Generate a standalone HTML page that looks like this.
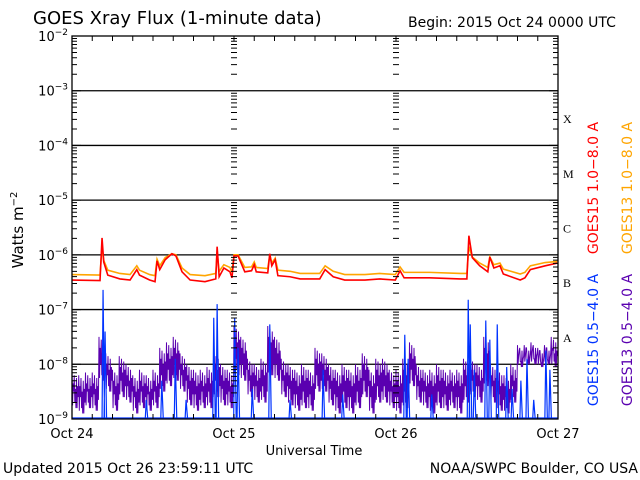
<!DOCTYPE html>
<html><head><meta charset="utf-8"><style>
body{margin:0;background:#fff;}
svg{display:block;font-family:"DejaVu Sans","Liberation Sans",sans-serif;}
</style></head><body>
<svg id="chart" width="640" height="480" viewBox="0 0 640 480">
<rect width="640" height="480" fill="#fff"/>
<text x="33" y="24" font-size="18">GOES Xray Flux (1-minute data)</text>
<text x="408" y="27" font-size="14">Begin:  2015 Oct 24 0000 UTC</text>
<text transform="translate(23,230) rotate(-90)" text-anchor="middle" font-size="15">Watts m<tspan dy="-6" font-size="10">−2</tspan></text>
<text x="314" y="455" text-anchor="middle" font-size="13">Universal Time</text>
<text x="3" y="473" font-size="14">Updated 2015 Oct 26 23:59:11 UTC</text>
<text x="638" y="473" text-anchor="end" font-size="14">NOAA/SWPC Boulder, CO USA</text>
<g id="grid"></g><g id="series"></g><g id="axes"></g>
<text transform="translate(598,188) rotate(-90)" text-anchor="middle" font-size="14" fill="#ff0000">GOES15 1.0−8.0 A</text>
<text transform="translate(632,188) rotate(-90)" text-anchor="middle" font-size="14" fill="#ffa500">GOES13 1.0−8.0 A</text>
<text transform="translate(598,340) rotate(-90)" text-anchor="middle" font-size="14" fill="#0033ff">GOES15 0.5−4.0 A</text>
<text transform="translate(632,340) rotate(-90)" text-anchor="middle" font-size="14" fill="#5a00b0">GOES13 0.5−4.0 A</text>
</svg>
<script>
const longTimes=[0,4.15,4.45,4.7,5.3,7.1,8.6,9.6,10,11.5,12.3,12.6,13,13.8,14.8,15.4,16.3,17.5,19.7,21.3,21.5,21.8,22.5,23.4,23.7,24,24.6,25.6,26.6,27,27.3,29,29.3,29.6,30.1,30.5,32.3,33.8,36.7,37.5,38.7,40.4,43.4,45.6,47.9,48.6,49.2,53,57.5,58.5,58.8,59.3,60.4,61.6,61.9,62.5,63.4,63.9,66.4,67.1,67.9,70.1,71.9];
const redVals=[-6.46,-6.47,-5.69,-6.13,-6.37,-6.44,-6.46,-6.27,-6.37,-6.46,-6.49,-6.11,-6.27,-6.09,-5.98,-6.02,-6.31,-6.46,-6.49,-6.44,-5.85,-6.40,-6.24,-6.31,-6.42,-6.02,-6.02,-6.31,-6.29,-6.18,-6.31,-6.33,-5.98,-6.2,-6.09,-6.38,-6.40,-6.44,-6.44,-6.27,-6.40,-6.46,-6.46,-6.44,-6.46,-6.29,-6.42,-6.42,-6.44,-6.44,-5.65,-6.05,-6.2,-6.31,-6.04,-6.24,-6.2,-6.35,-6.46,-6.42,-6.27,-6.2,-6.15];
const orangeVals=[-6.36,-6.37,-5.85,-6.1,-6.28,-6.34,-6.36,-6.2,-6.28,-6.36,-6.38,-6.08,-6.2,-6.05,-5.98,-6.0,-6.24,-6.36,-6.38,-6.34,-5.95,-6.3,-6.18,-6.23,-6.32,-6.0,-6.0,-6.23,-6.22,-6.13,-6.23,-6.25,-6.0,-6.15,-6.06,-6.28,-6.3,-6.34,-6.34,-6.2,-6.3,-6.36,-6.36,-6.34,-6.36,-6.22,-6.32,-6.32,-6.34,-6.34,-5.85,-6.04,-6.15,-6.23,-6.04,-6.18,-6.15,-6.26,-6.35,-6.32,-6.2,-6.14,-6.12];
const purpleHi=[-8.15,-8.2,-8.15,-8.15,-7.5,-7.8,-8.1,-7.85,-8.0,-8.2,-8.1,-8.2,-8.1,-7.7,-7.6,-7.5,-7.8,-8.0,-8.1,-8.1,-8.05,-7.8,-8.0,-8.1,-7.3,-7.5,-7.9,-8.0,-7.9,-7.3,-7.5,-7.9,-8.0,-8.1,-8.0,-8.1,-7.7,-7.8,-8.0,-8.1,-8.0,-8.1,-8.0,-7.8,-8.1,-7.9,-7.9,-8.1,-8.1,-7.9,-7.6,-8.0,-8.1,-8.1,-8.0,-8.1,-8.1,-8.1,-7.9,-7.9,-8.0,-7.5,-8.0,-8.1,-8.2,-8.0,-7.65,-7.65,-7.6,-7.7,-7.65,-7.5];
const purpleLo=[-8.8,-8.9,-8.8,-8.85,-8.3,-8.5,-8.85,-8.6,-8.7,-8.9,-8.8,-8.85,-8.8,-8.5,-8.4,-8.3,-8.5,-8.75,-8.85,-8.8,-8.8,-8.6,-8.75,-8.8,-8.2,-8.3,-8.6,-8.7,-8.7,-8.2,-8.3,-8.6,-8.75,-8.85,-8.8,-8.85,-8.5,-8.5,-8.75,-8.9,-8.8,-8.9,-8.8,-8.6,-8.9,-8.7,-8.7,-8.8,-8.9,-8.8,-8.4,-8.7,-8.8,-8.9,-8.8,-8.85,-8.8,-8.9,-8.7,-8.6,-8.7,-8.4,-8.7,-8.85,-8.9,-8.7,-8.05,-8.0,-8.0,-8.05,-8.0,-8.05];
const blueTimes=[4.6,4.9,11,13.3,15.3,16.9,21,21.5,24.1,24.6,26.7,29.3,32.3,37.2,40.1,49.3,49.8,53.3,58.7,59,59.6,61.3,61.9,63,64.4,65.2,66.5,67.4,68.4,70.2,70.8];
const blueVals=[-6.64,-7.4,-8.65,-8.3,-7.9,-8.65,-7.15,-6.9,-7.15,-7.7,-8.45,-7.27,-8.65,-8.1,-8.55,-7.46,-7.9,-8.55,-6.82,-7.27,-8.1,-7.2,-7.55,-7.27,-8.05,-8.45,-8.3,-7.9,-8.65,-7.75,-8.1];
const decadeLabels=["−2","−3","−4","−5","−6","−7","−8","−9"];
const classLabels=["X","M","C","B","A"];
const dayLabels=["Oct 24","Oct 25","Oct 26","Oct 27"];

const NS="http://www.w3.org/2000/svg";
const X0=72,X1=558,Y0=36,Y1=419;
const xs=h=>X0+h/72*(X1-X0);
const ys=v=>Math.min(Y1,Y1-(v+9)/7*(Y1-Y0));
function mk(tag,attrs,parent){const e=document.createElementNS(NS,tag);for(const k in attrs)e.setAttribute(k,attrs[k]);parent.appendChild(e);return e;}
const grid=document.getElementById('grid'),ser=document.getElementById('series'),ax=document.getElementById('axes');

decadeLabels.forEach((lab,i)=>{
  const v=-2-i,y=ys(v);
  if(i>0&&i<7){const l=mk('line',{x1:X0,x2:X1,y1:y,y2:y,stroke:'#000','stroke-width':1.3},grid);
  
  }
  const t=mk('text',{x:X0-4,y:y+5,'text-anchor':'end','font-size':13},ax);
  
  
  t.textContent='10';
  const s=mk('tspan',{dy:-6,'font-size':9},t);s.textContent=lab;
});
let ticks='';
for(let d=-9;d<-2;d++){for(let m=2;m<=9;m++){const y=ys(d+Math.log10(m));
  ticks+=`M${X0},${y}h5M${X1},${y}h-5`;
  [xs(24),xs(48)].forEach(x=>{ticks+=`M${x-3},${y}h6`;});}}
for(let d=-9;d<=-2;d++){const y=ys(d);ticks+=`M${X0},${y}h9M${X1},${y}h-9`;}
for(let h=3;h<72;h+=3){const x=xs(h);ticks+=`M${x},${Y0}v5M${x},${Y1}v-5`;}
const tp=mk('path',{d:ticks,stroke:'#000','stroke-width':1,fill:'none'},ax);


const fr=mk('rect',{x:X0,y:Y0,width:X1-X0,height:Y1-Y0,fill:'none',stroke:'#000','stroke-width':1.3},ax);


dayLabels.forEach((lab,i)=>{const t=mk('text',{x:xs(i*24),y:438,'text-anchor':'middle','font-size':13},ax);
  
  
  t.textContent=lab;});
classLabels.forEach((lab,i)=>{const t=mk('text',{x:563,y:ys(-3.5-i)+5,'font-size':12,'font-family':'Liberation Serif,serif'},ax);
  
  
  t.textContent=lab;});

let pd='';
const jit=[0,0.2,0.05,0.3,0.1,0.25];
purpleHi.forEach((hi,i)=>{const lo=purpleLo[i];
  for(let k=0;k<6;k++){const x=xs(i+k/6);const x2=xs(i+k/6+1/12);
    pd+=(pd?'L':'M')+x+','+ys(hi-jit[k])+'L'+x2+','+ys(lo+jit[(k+2)%6]-(k==3?0.25:0));}});
const pp=mk('path',{d:pd,stroke:'#5a00b0','stroke-width':1,fill:'none'},ser);


let bd=`M${X0},${Y1-1}H${X1}`;
blueTimes.forEach((t,i)=>{const x=xs(t);bd+=`M${x-1},${Y1}L${x},${ys(blueVals[i])}L${x+1.5},${Y1}`;});
const bp=mk('path',{d:bd,stroke:'#0033ff','stroke-width':1.2,fill:'none'},ser);


function line(vals,color,name){
  const d=longTimes.map((t,i)=>(i?'L':'M')+xs(t)+','+ys(vals[i])).join('');
  const p=mk('path',{d:d,stroke:color,'stroke-width':1.6,fill:'none'},ser);
  
  }
line(orangeVals,'#ffa500','series-goes13-long');
line(redVals,'#ff0000','series-goes15-long');
</script>
</body></html>
